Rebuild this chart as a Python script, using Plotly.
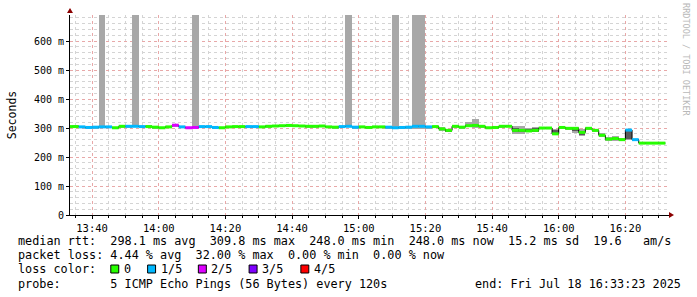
import plotly.graph_objects as go
import pandas as pd

# ---------------- data ----------------
start_time = "2025-07-18 13:32"
n_slots = 90
median_ms = [305,
             305, 304, 302, 303, 304, 304, 301, 306, 306, 306,
             305, 305, 303, 301, 304, 309.8, 304, 301, 302, 305,
             305, 302, 301, 304, 305, 305, 305, 305, 304, 306,
             307, 308, 309, 308, 307, 306, 306, 307, 304, 303,
             305, 306, 303, 304, 302, 304, 304, 303, 301, 302,
             303, 306, 306, 304, 305, 297, 292, 306, 303, 308,
             309, 306, 301, 302, 306, 306, 292, 292, 290, 292,
             300, 300, 280, 302, 299, 299, 285, 299, 292, 275,
             262, 264, 260, 293, 260, 248, 248, 248, 248]
loss_idx = [0,
            0, 1, 1, 1, 1, 1, 0, 0, 1, 1,
            1, 0, 0, 0, 0, 2, 1, 2, 2, 1,
            1, 1, 0, 0, 0, 0, 1, 1, 0, 0,
            0, 0, 0, 0, 0, 0, 0, 0, 0, 0,
            1, 1, 1, 0, 0, 0, 0, 1, 1, 1,
            1, 1, 1, 1, 0, 0, 0, 0, 0, 0,
            0, 0, 0, 0, 0, 0, 0, 0, 0, 0,
            0, 0, 0, 0, 0, 0, 0, 0, 0, 0,
            0, 0, 0, 1, 1, 0, 0, 0, 0]
smoke_lo = [302,
            302, 301, 299, 297, 301, 301, 298, 303, 303, 303,
            302, 302, 300, 298, 301, 306, 301, 298, 299, 302,
            302, 299, 298, 301, 302, 302, 302, 302, 301, 303,
            304, 305, 306, 305, 304, 303, 303, 304, 301, 300,
            302, 303, 300, 301, 299, 301, 301, 300, 298, 299,
            297, 298, 297, 298, 300, 290, 285, 303, 300, 305,
            300, 303, 298, 298, 300, 302, 278, 280, 285, 287,
            295, 296, 276, 298, 294, 282, 272, 294, 288, 268,
            255, 255, 255, 258, 255, 246, 246, 246, 246]
smoke_hi = [308,
            309, 307, 305, 306, 700, 307, 304, 309, 309, 700,
            308, 309, 306, 304, 307, 312, 307, 304, 700, 308,
            308, 305, 304, 307, 308, 308, 308, 308, 307, 309,
            310, 311, 312, 311, 310, 309, 309, 310, 307, 306,
            308, 700, 306, 307, 305, 307, 307, 306, 700, 305,
            306, 700, 700, 307, 308, 302, 298, 309, 306, 322,
            331, 309, 305, 306, 309, 309, 308, 306, 300, 305,
            305, 303, 298, 306, 303, 305, 298, 302, 296, 282,
            270, 272, 264, 296, 263, 250, 250, 250, 250]
# inner (darker) smoke band, None where not visible
dark_lo = [None] * 56 + [292, 288] + [None] * 9 + [288, 286, 286, 288] + [None] * 2 + [280] + [None] * 2 + [290, 276] + [None] * 3 + [258] + [None] * 2 + [262] + [None] * 5
dark_hi = [None] * 56 + [300, 296] + [None] * 9 + [300, 296, 298, 300] + [None] * 2 + [292] + [None] * 2 + [300, 290] + [None] * 3 + [266] + [None] * 2 + [292] + [None] * 5

loss_colors = ["#26ff00", "#00b8ff", "#dd00ff", "#7e00ff", "#ff0000"]
loss_labels = ["0", "1/5", "2/5", "3/5", "4/5"]
y_tick_vals = [0, 100, 200, 300, 400, 500, 600]
y_tick_text = ["0", "100 m", "200 m", "300 m", "400 m", "500 m", "600 m"]

# ---------------- figure ----------------
times = pd.date_range(start_time, periods=n_slots, freq="2min")
step = pd.Timedelta(minutes=2)
centers = times + step / 2
ends = times + step

fig = go.Figure()

# light smoke
fig.add_trace(go.Bar(x=centers, base=smoke_lo,
                     y=[h - l for h, l in zip(smoke_hi, smoke_lo)],
                     width=120000, marker=dict(color="#a8a8a8", line=dict(width=0)),
                     hoverinfo="skip"))
# dark smoke
fig.add_trace(go.Bar(x=centers, base=dark_lo,
                     y=[(h - l) if h is not None else None for h, l in zip(dark_hi, dark_lo)],
                     width=120000, marker=dict(color="#5a5a5a", line=dict(width=0)),
                     hoverinfo="skip"))

# black connector (step line)
fig.add_trace(go.Scatter(x=list(times) + [ends[-1]], y=median_ms + [median_ms[-1]],
                         mode="lines", line=dict(color="black", width=1, shape="hv"),
                         hoverinfo="skip"))

# coloured median segments by loss
for li, col in enumerate(loss_colors):
    xs, ys = [], []
    for t, e, m, l in zip(times, ends, median_ms, loss_idx):
        if l == li:
            xs += [t, e, None]
            ys += [m, m, None]
    if xs:
        fig.add_trace(go.Scatter(x=xs, y=ys, mode="lines",
                                 line=dict(color=col, width=3), hoverinfo="skip"))

L, R, T, B = 67, 27, 15, 82
W, H = 697, 297
PW, PH = W - L - R, H - T - B


def px(x):
    return (x - L) / PW


def py(y):
    return (H - B - y) / PH


FONT = "DejaVu Sans Mono"

fig.update_layout(
    width=W, height=H, margin=dict(l=L, r=R, t=T, b=B),
    paper_bgcolor="white", plot_bgcolor="white",
    showlegend=False, barmode="overlay", bargap=0,
    font=dict(family=FONT, size=10, color="black"),
    xaxis=dict(range=["2025-07-18 13:33:23", "2025-07-18 16:33:23"],
               type="date", tickformat="%H:%M",
               dtick=20 * 60 * 1000, tick0="2025-07-18 13:40",
               showgrid=True, gridcolor="#e8a8a8", griddash="dot", gridwidth=1,
               minor=dict(dtick=5 * 60 * 1000, tick0="2025-07-18 13:40",
                          showgrid=True, gridcolor="#d4d4d4", griddash="dot",
                          ticks="outside", ticklen=2, tickcolor="black"),
               showline=True, linecolor="black", linewidth=1,
               ticks="outside", ticklen=3, tickcolor="black",
               zeroline=False, tickfont=dict(family=FONT, size=10.5)),
    yaxis=dict(range=[0, 690], tickvals=y_tick_vals, ticktext=y_tick_text,
               showgrid=True, gridcolor="#e8a8a8", griddash="dot", gridwidth=1,
               minor=dict(dtick=20, tick0=0, showgrid=True, gridcolor="#d4d4d4",
                          griddash="dot"),
               showline=True, linecolor="black", linewidth=1,
               ticks="outside", ticklen=3, tickcolor="black",
               zeroline=False, tickfont=dict(family=FONT, size=10),
               title=dict(text="Seconds", font=dict(family=FONT, size=11.5),
                          standoff=14)),
)

arrow_col = "#8b0000"
shapes = [
    dict(type="path", xref="paper", yref="paper", fillcolor=arrow_col, line=dict(width=0),
         path=f"M {px(64)},{py(13)} L {px(70)},{py(13)} L {px(67)},{py(8)} Z"),
    dict(type="path", xref="paper", yref="paper", fillcolor=arrow_col, line=dict(width=0),
         path=f"M {px(669)},{py(212)} L {px(669)},{py(218)} L {px(674)},{py(215)} Z"),
]

annotations = []
fs = 11.8


def text(x, y, s, anchor="left", size=fs, color="black", angle=0):
    annotations.append(dict(xref="paper", yref="paper", x=px(x), y=py(y), text=s,
                            showarrow=False, xanchor=anchor, yanchor="middle",
                            textangle=angle, borderpad=0,
                            font=dict(family=FONT, size=size, color=color)))


text(14, 241, "median rtt:  298.1 ms avg  309.8 ms max  248.0 ms min  248.0 ms now  15.2 ms sd  19.6   am/s")
text(14, 255, "packet loss: 4.44 % avg  32.00 % max  0.00 % min  0.00 % now")
text(14, 269, "loss color:")
box_x = [108, 145, 196, 247, 299]
for bx, col, lab in zip(box_x, loss_colors, loss_labels):
    shapes.append(dict(type="rect", xref="paper", yref="paper",
                       x0=px(bx), x1=px(bx + 8), y0=py(273), y1=py(265),
                       fillcolor=col, line=dict(color="black", width=1)))
    text(bx + 12, 269, lab)
text(14, 284, "probe:       5 ICMP Echo Pings (56 Bytes) every 120s")
text(682, 284, "end: Fri Jul 18 16:33:23 2025", anchor="right")
annotations.append(dict(xref="paper", yref="paper", x=px(686), y=py(60),
                        text="RRDTOOL / TOBI OETIKER", showarrow=False,
                        xanchor="center", yanchor="middle", textangle=90,
                        font=dict(family=FONT, size=8.5, color="#b8b8b8")))

fig.update_layout(shapes=shapes, annotations=annotations)
fig.write_html("out.html")
